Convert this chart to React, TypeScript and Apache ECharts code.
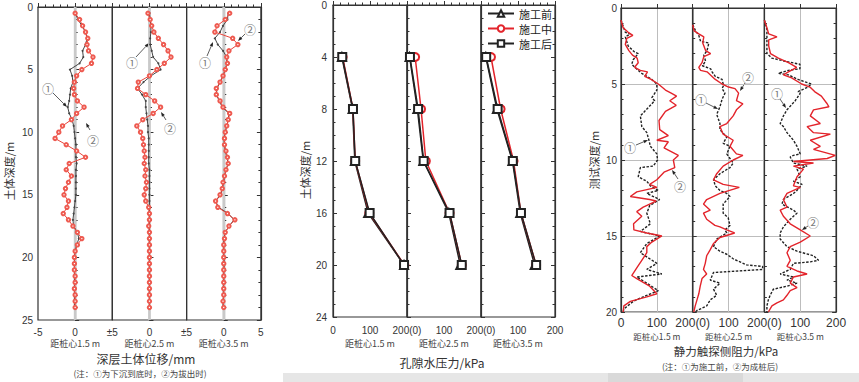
import React, { useEffect, useRef } from "react";
import * as echarts from "echarts";

// ---------- Panel 1: deep soil displacement (mm) vs depth (m) ----------
const DEPTH_1 = [0.5, 1, 1.5, 2, 2.5, 3, 3.5, 4, 4.5, 5, 5.5, 6, 6.5, 7, 7.5, 8, 8.5, 9, 9.5, 10, 10.5, 11, 11.5, 12, 12.5, 13, 13.5, 14, 14.5, 15, 15.5, 16, 16.5, 17, 17.5, 18, 18.5, 19, 19.5, 20, 20.5, 21, 21.5, 22, 22.5, 23, 23.5, 24];
// ① at pile bottom (black), ② when pulled out (red)
const DISP_15_SINK = [0, 0.4, 0.9, 1.4, 1.6, 1.4, 1.0, 1.1, 0.6, -0.7, -0.4, -0.3, -0.6, -0.7, -0.8, -1.0, -0.8, -0.4, -0.2, -0.1, 0, 0.1, 0.1, 0.1, 0.2, 0.1, 0.1, 0.1, 0.1, 0.1, 0, -0.1, -0.2, -0.3, -0.2, 0.3, 0.5, 0.2, 0, -0.1, -0.1, -0.1, -0.1, -0.1, -0.1, -0.1, -0.1, -0.1];
const DISP_15_PULL = [0, 0.6, 1.0, 1.4, 1.7, 1.6, 1.8, 2.4, 2.2, 0.9, 0.2, -0.1, -0.2, -0.1, 0.3, 1.2, 0.2, -0.5, -1.7, -2.2, -2.7, -1.2, 0.2, 1.4, -0.8, -1.2, -0.5, -0.9, -1.3, -1.5, -0.9, -1.1, -1.6, -0.9, -0.3, 0.3, 0.9, 0.3, 0, -0.1, -0.1, -0.1, 0, 0, -0.1, 0, 0, 0];
const DISP_25_SINK = [0, 0.1, 0.2, 0.2, 0.1, 0.1, 0.3, 0.5, 1.2, 1.5, 0.2, -0.8, -1.6, -1.0, -0.5, -0.5, -0.4, -0.3, -0.2, -0.2, -0.1, -0.1, -0.1, -0.1, -0.1, 0, 0, 0, 0, 0, 0, 0, 0, 0, 0, 0, 0, 0, 0, 0, 0, 0, 0, 0, 0, 0, 0, 0];
const DISP_25_PULL = [-0.2, 0.1, 0.3, 0.6, 1.2, 1.9, 2.5, 2.9, 2.0, 1.0, 0, -1.5, -1.6, -0.5, 0.7, 1.5, 0.5, -0.9, -1.7, -1.2, -0.9, -0.8, -0.7, -0.6, -0.7, -0.5, -0.6, -0.4, -0.5, -0.7, -0.5, -0.1, 0, 0, -0.1, 0, 0, 0, 0, 0, 0, 0, 0, 0, 0, 0, 0, 0];
const DISP_35_SINK = [0.6, 0.5, -0.1, -0.5, -1.2, -0.8, -0.1, 0.4, 0.4, 0.2, -0.1, -0.5, -0.9, -1.0, -0.6, -0.2, 0.7, 0.6, 0.4, 0.2, 0, 0.1, 0.2, 0.4, 0.6, 0.3, 0.1, 0, -0.2, -0.4, -1.1, -0.7, 0.6, 1.4, 0.7, 0.2, 0, 0, 0, 0, 0.1, 0, 0, 0, -0.1, 0, -0.1, -0.1];
const DISP_35_PULL = [0.8, 0.2, -0.9, -1.2, 1.2, 1.9, 0.7, 0.4, 0.5, 0.2, -0.1, -0.5, -1.0, -1.0, -0.5, -0.1, 0.8, 0.6, 0.4, 0.2, 0.1, 0.1, 0.3, 0.5, 0.6, 0.3, 0.1, -0.1, -0.2, -0.5, -1.1, -0.8, 0.5, 1.5, 0.7, 0.2, 0.1, 0, 0, 0, 0, 0, 0, 0, 0, 0, -0.1, 0];

// ---------- Panel 2: pore water pressure (kPa) vs depth (m) ----------
const DEPTH_2 = [4, 8, 12, 16, 20];
const PWP_15 = { before: [24, 53, 59, 95, 192], during: [26, 54, 60, 98, 193], after: [25, 54, 60, 99, 192] };
const PWP_25 = { before: [7, 28, 44, 113, 144], during: [22, 38, 51, 115, 148], after: [8, 30, 45, 115, 148] };
const PWP_35 = { before: [13, 43, 85, 106, 145], during: [27, 53, 88, 108, 149], after: [14, 45, 86, 108, 149] };
const LEGEND_NAMES = ["施工前", "施工中", "施工后"];

// ---------- Panel 3: CPT sleeve friction (kPa) vs depth (m), pairs [kPa, depth] ----------
const CPT_15_BEFORE = [[0, 0.8], [12, 1.6], [26, 1.7], [12, 1.9], [20, 2.5], [38, 2.9], [48, 3.0], [34, 3.4], [30, 3.7], [48, 4.1], [58, 4.3], [72, 4.5], [86, 4.7], [100, 5.0], [100, 5.4], [86, 5.9], [94, 6.1], [78, 6.5], [54, 7.1], [58, 7.8], [72, 8.2], [78, 8.7], [82, 9.1], [100, 9.6], [102, 10.0], [90, 10.4], [54, 10.5], [48, 11.1], [72, 11.4], [82, 11.7], [104, 12.0], [72, 12.2], [108, 12.6], [80, 13.0], [72, 13.5], [82, 14.2], [54, 14.7], [108, 15.0], [72, 15.5], [54, 16.1], [100, 16.8], [72, 17.2], [114, 17.5], [44, 17.7], [72, 18.1], [104, 18.6], [62, 19.0], [34, 19.3], [8, 19.8], [6, 20]];
const CPT_15_AFTER = [[0, 0.8], [6, 1.3], [20, 1.6], [33, 1.8], [16, 2.0], [12, 2.4], [22, 2.8], [32, 3.1], [45, 3.3], [48, 3.6], [38, 3.9], [54, 4.1], [74, 4.2], [66, 4.5], [84, 4.7], [104, 5.0], [114, 5.2], [124, 5.4], [140, 5.6], [155, 5.8], [136, 6.1], [154, 6.4], [124, 6.8], [106, 7.4], [108, 8.0], [132, 8.4], [100, 8.7], [132, 8.8], [120, 9.2], [160, 9.7], [146, 10.0], [150, 10.5], [120, 10.8], [100, 11.3], [80, 11.6], [100, 11.8], [44, 12.1], [26, 12.4], [80, 12.6], [98, 12.7], [62, 13.1], [44, 13.4], [58, 13.7], [35, 14.2], [36, 14.6], [72, 14.8], [114, 15.0], [86, 15.4], [72, 15.7], [72, 16.1], [58, 16.6], [44, 17.1], [30, 17.6], [44, 17.8], [80, 18.3], [100, 18.8], [72, 19.0], [26, 19.3], [8, 19.6], [6, 20]];
const CPT_25_BEFORE = [[0, 1.1], [8, 1.5], [17, 1.8], [22, 2.2], [45, 2.3], [40, 2.8], [31, 3.1], [36, 3.5], [27, 3.8], [50, 4.0], [54, 4.2], [63, 4.5], [82, 4.7], [86, 5.1], [82, 5.3], [90, 5.6], [82, 6.0], [76, 6.5], [67, 7.0], [76, 7.6], [76, 8.0], [95, 8.5], [85, 8.9], [104, 9.1], [95, 9.6], [104, 9.9], [113, 10.2], [104, 10.5], [76, 10.9], [58, 11.3], [63, 11.7], [76, 12.0], [95, 12.2], [104, 12.4], [85, 12.9], [85, 13.5], [99, 13.8], [104, 14.3], [90, 14.6], [95, 14.8], [67, 15.2], [58, 15.7], [76, 16.0], [95, 16.2], [113, 16.5], [150, 16.9], [195, 17.0], [195, 17.2], [58, 17.4], [49, 17.9], [76, 18.1], [58, 18.5], [67, 18.9], [49, 19.2], [39, 19.6], [12, 19.9], [7, 20]];
const CPT_25_AFTER = [[0, 1.1], [4, 1.5], [17, 1.7], [31, 1.9], [28, 2.3], [36, 2.8], [50, 3.0], [31, 3.2], [26, 3.6], [17, 3.9], [22, 4.1], [40, 4.2], [54, 4.5], [63, 4.7], [82, 5.0], [100, 5.2], [118, 5.3], [128, 5.6], [122, 6.1], [140, 6.3], [122, 6.7], [113, 7.1], [95, 7.6], [76, 7.8], [85, 8.3], [113, 8.7], [104, 9.1], [122, 9.6], [140, 9.7], [113, 10.0], [85, 10.4], [67, 10.9], [58, 11.3], [85, 11.6], [130, 11.8], [76, 12.2], [39, 12.6], [30, 12.9], [49, 13.3], [30, 13.5], [39, 13.9], [62, 14.3], [76, 14.4], [95, 14.6], [117, 14.8], [76, 15.1], [58, 15.5], [49, 15.9], [39, 16.3], [35, 16.8], [30, 17.2], [39, 17.5], [26, 17.8], [21, 18.3], [17, 18.8], [12, 19.2], [7, 19.6], [3, 20]];
const CPT_35_BEFORE = [[0, 0.8], [7, 1.4], [7, 2.3], [7, 3.0], [21, 3.3], [58, 3.5], [99, 3.7], [99, 4.0], [67, 4.1], [39, 4.3], [67, 4.4], [94, 4.7], [131, 5.0], [122, 5.2], [94, 5.5], [100, 5.6], [86, 6.1], [63, 6.7], [53, 7.1], [44, 7.6], [53, 7.8], [63, 8.2], [81, 8.7], [91, 9.1], [100, 9.6], [81, 9.7], [72, 9.8], [81, 10.2], [119, 10.4], [91, 10.6], [100, 11.1], [81, 11.4], [105, 11.6], [91, 12.0], [81, 12.2], [53, 12.6], [49, 12.9], [81, 13.3], [91, 13.5], [81, 13.7], [72, 13.9], [53, 14.4], [44, 14.8], [44, 15.2], [63, 15.7], [91, 16.0], [137, 16.3], [151, 16.6], [128, 16.7], [81, 16.8], [72, 17.2], [44, 17.5], [81, 17.7], [63, 17.9], [91, 18.1], [63, 18.3], [25, 18.5], [16, 18.9], [11, 19.2], [7, 19.6], [7, 20]];
const CPT_35_AFTER = [[0, 0.8], [7, 1.3], [12, 1.7], [35, 1.9], [12, 2.1], [12, 2.5], [17, 3.0], [39, 3.3], [67, 3.6], [90, 3.9], [67, 4.2], [53, 4.4], [76, 4.6], [104, 5.0], [127, 5.2], [140, 5.5], [159, 5.8], [175, 6.3], [180, 6.5], [137, 6.7], [128, 7.1], [156, 7.6], [119, 7.8], [137, 8.2], [184, 8.3], [128, 8.7], [156, 9.1], [137, 9.3], [198, 9.7], [175, 9.9], [81, 10.1], [137, 10.2], [81, 10.4], [109, 10.6], [91, 11.1], [81, 11.7], [100, 11.8], [63, 12.2], [53, 12.6], [63, 13.1], [44, 13.3], [53, 13.7], [72, 14.2], [100, 14.6], [128, 15.0], [100, 15.4], [72, 15.7], [63, 16.1], [72, 16.6], [63, 17.0], [91, 17.3], [119, 17.5], [81, 17.7], [72, 18.1], [91, 18.4], [72, 18.6], [63, 18.9], [53, 19.2], [35, 19.4], [21, 19.6], [11, 20]];

const SUB_LABELS = ["距桩心1.5 m", "距桩心2.5 m", "距桩心3.5 m"];

const NUM_FONT = "'Liberation Sans', Arial, sans-serif";
const CJK_FONT = "'Noto Sans CJK SC', 'Liberation Sans', sans-serif";
const AX = "#333";
const RED = "#e3242b";

const LAYOUTS = [
  { left: 38, w: 74.3, top: 7, h: 313 },
  { left: 333, w: 74, top: 5, h: 312 },
  { left: 621, w: 71.7, top: 8, h: 304 },
];

function pairs(vals: number[], depths: number[]) {
  return vals.map((v, k) => [v, depths[k]]);
}

function arrow(x1: number, y1: number, x2: number, y2: number) {
  const dx = x2 - x1, dy = y2 - y1;
  const len = Math.sqrt(dx * dx + dy * dy) || 1;
  const ux = dx / len, uy = dy / len;
  const bx = x2 - ux * 4.5, by = y2 - uy * 4.5;
  return [
    { type: "line", shape: { x1, y1, x2: bx, y2: by }, style: { stroke: "#333", lineWidth: 0.8 }, silent: true },
    { type: "polygon", shape: { points: [[x2, y2], [bx - uy * 1.7, by + ux * 1.7], [bx + uy * 1.7, by - ux * 1.7]] }, style: { fill: "#222" }, silent: true },
  ];
}

function note(label: string, tx: number, ty: number, x1: number, y1: number, x2: number, y2: number) {
  return [
    { type: "text", x: tx, y: ty, silent: true, style: { text: label, font: `12px ${CJK_FONT}`, fill: "#7a7a7a", align: "center", verticalAlign: "middle" } },
    ...arrow(x1, y1, x2, y2),
  ];
}

function txt(text: string, x: number, y: number, size: number, fill = "#333", rotation = 0) {
  return { type: "text", x, y, rotation, silent: true, style: { text, font: `${size}px ${CJK_FONT}`, fill, align: "center", verticalAlign: "middle" } };
}

function buildOption() {
  const grid: any[] = [];
  const xAxis: any[] = [];
  const yAxis: any[] = [];
  const rightAxes: any[] = [];
  const panelY = [
    { max: 25, interval: 5, minor: 5, label: 10, margin: 5 },
    { max: 24, interval: 4, minor: 4, label: 10, margin: 6 },
    { max: 20, interval: 5, minor: 5, label: 10, margin: 4 },
  ];
  LAYOUTS.forEach((L, p) => {
    for (let i = 0; i < 3; i++) {
      const g = p * 3 + i;
      grid.push({ left: L.left + i * L.w, top: L.top, width: L.w, height: L.h, show: true, borderColor: AX, borderWidth: 1.2, backgroundColor: "transparent" });
      let xa: any;
      if (p === 0) {
        xa = {
          min: -5, max: 5, interval: 5,
          axisLabel: { fontSize: 10, margin: 7, fontFamily: NUM_FONT, color: "#333", formatter: (v: number) => (v === -5 ? (i === 0 ? "-5" : "±5") : v === 5 ? (i === 2 ? "5" : "") : String(v)) },
          minorTick: { show: true, splitNumber: 5, length: 2.5, lineStyle: { color: AX } },
          splitLine: { show: false },
        };
      } else {
        xa = {
          min: 0, max: 200, interval: 100,
          axisLabel: { fontSize: p === 1 ? 10 : 12, margin: p === 1 ? 8 : 5, fontFamily: NUM_FONT, color: "#333", formatter: (v: number) => (v === 0 ? (i === 0 ? "0" : "200(0)") : v === 200 ? (i === 2 ? "200" : "") : String(v)) },
          minorTick: { show: p === 1, splitNumber: 5, length: 2.5, lineStyle: { color: AX } },
          splitLine: { show: p === 2, lineStyle: { color: "#bdbdbd", width: 1 } },
        };
      }
      xAxis.push({
        type: "value", gridIndex: g, position: "bottom",
        axisLine: { show: true, lineStyle: { color: AX, width: 1.2 } },
        axisTick: { show: true, inside: true, length: 4, lineStyle: { color: AX } },
        ...xa,
      });
      const Y = panelY[p];
      const yBase = {
        type: "value", gridIndex: g, inverse: true, min: 0, max: Y.max, interval: Y.interval,
        axisLine: { show: true, lineStyle: { color: AX, width: 1.2 } },
        axisTick: { show: true, inside: true, length: 4, lineStyle: { color: AX } },
        minorTick: { show: true, splitNumber: Y.minor, length: 2.5, lineStyle: { color: AX } },
      };
      yAxis.push({
        ...yBase, position: "left",
        axisLabel: { show: i === 0, fontSize: Y.label, margin: Y.margin, fontFamily: NUM_FONT, color: "#333" },
        splitLine: { show: p === 2, lineStyle: { color: "#bdbdbd", width: 1 } },
      });
      if (i === 2) {
        rightAxes.push({ ...yBase, position: "right", axisLabel: { show: false }, splitLine: { show: false } });
      }
    }
  });

  const series: any[] = [];
  // Panel 1
  const p1 = [
    [DISP_15_SINK, DISP_15_PULL],
    [DISP_25_SINK, DISP_25_PULL],
    [DISP_35_SINK, DISP_35_PULL],
  ];
  p1.forEach(([sink, pull], i) => {
    series.push({
      type: "line", name: `下沉到底时 ${SUB_LABELS[i]}`, xAxisIndex: i, yAxisIndex: i, z: 2,
      data: pairs(sink, DEPTH_1), symbol: "circle", symbolSize: 2,
      lineStyle: { color: "#444", width: 1 }, itemStyle: { color: "#444" },
      markArea: { silent: true, itemStyle: { color: "#c9c9c9" }, label: { show: false }, data: [[{ xAxis: -0.18 }, { xAxis: 0.18 }]] },
    });
    series.push({
      type: "line", name: `拔出时 ${SUB_LABELS[i]}`, xAxisIndex: i, yAxisIndex: i, z: 3,
      data: pairs(pull, DEPTH_1), symbol: "emptyCircle", symbolSize: 3.4,
      lineStyle: { color: "#e8443a", width: 1 }, itemStyle: { color: "#ee5a50", borderWidth: 0.5 },
    });
  });
  // Panel 2
  [PWP_15, PWP_25, PWP_35].forEach((s, i) => {
    const g = 3 + i;
    const cfg = [
      { key: "before", name: LEGEND_NAMES[0], color: "#222", symbol: "emptyTriangle" },
      { key: "during", name: LEGEND_NAMES[1], color: RED, symbol: "emptyCircle" },
      { key: "after", name: LEGEND_NAMES[2], color: "#222", symbol: "emptyRect" },
    ];
    cfg.forEach((c) => {
      series.push({
        type: "line", name: c.name, xAxisIndex: g, yAxisIndex: g,
        data: pairs((s as any)[c.key], DEPTH_2), symbol: c.symbol, symbolSize: 8,
        lineStyle: { color: c.color, width: 1.5 }, itemStyle: { color: c.color, borderWidth: 1.2 },
      });
    });
  });
  // Panel 3
  [[CPT_15_BEFORE, CPT_15_AFTER], [CPT_25_BEFORE, CPT_25_AFTER], [CPT_35_BEFORE, CPT_35_AFTER]].forEach(([b, a], i) => {
    const g = 6 + i;
    series.push({
      type: "line", name: `施工前 CPT ${SUB_LABELS[i]}`, xAxisIndex: g, yAxisIndex: g, z: 2,
      data: b, symbol: "none", lineStyle: { color: "#222", width: 1.4, type: [2.5, 1.5] },
    });
    series.push({
      type: "line", name: `成桩后 CPT ${SUB_LABELS[i]}`, xAxisIndex: g, yAxisIndex: g, z: 3,
      data: a, symbol: "none", lineStyle: { color: RED, width: 1.4 },
    });
  });

  const graphic: any[] = [
    { type: "rect", shape: { x: 283, y: 373, width: 576, height: 9 }, style: { fill: "#e6e6e6" }, silent: true },
    { type: "rect", shape: { x: 608, y: 373, width: 135, height: 9 }, style: { fill: "#d9d9d9" }, silent: true },
    txt("土体深度/m", 9, 171, 11, "#333", Math.PI / 2),
    txt("土体深度/m", 305, 170, 11, "#333", Math.PI / 2),
    txt("测试深度/m", 594, 160, 11, "#333", Math.PI / 2),
    txt("深层土体位移/mm", 146, 358, 12, "#333"),
    txt("孔隙水压力/kPa", 442, 362, 12, "#333"),
    txt("静力触探侧阻力/kPa", 726, 351, 11.5, "#333"),
    txt("(注：①为下沉到底时，②为拔出时)", 140, 373, 8.5, "#444"),
    txt("(注：①为施工前，②为成桩后)", 720, 366, 8.5, "#444"),
  ];
  LAYOUTS.forEach((L, p) => {
    const y = p === 2 ? 336 : 343;
    for (let i = 0; i < 3; i++) {
      graphic.push(txt(SUB_LABELS[i], L.left + (i + 0.5) * L.w, y, p === 2 ? 8.5 : 9, "#444"));
    }
  });
  graphic.push(
    ...note("①", 48, 88, 53, 93, 67, 107),
    ...note("②", 93, 140, 90, 130, 86, 123),
    ...note("①", 132, 62, 136, 57, 149, 43),
    ...note("②", 170, 128, 166, 120, 161, 112),
    ...note("①", 205, 62, 207, 56, 213, 42),
    ...note("②", 250, 29, 245, 34, 238, 41),
    ...note("①", 630, 147, 636, 145, 648, 140),
    ...note("②", 680, 186, 678, 179, 672, 170),
    ...note("②", 748, 77, 745, 83, 740, 91),
    ...note("①", 701, 99, 706, 103, 718, 109),
    ...note("①", 777, 93, 780, 99, 786, 108),
    ...note("②", 813, 222, 808, 226, 802, 230),
  );

  return {
    animation: false,
    backgroundColor: "#ffffff",
    textStyle: { fontFamily: CJK_FONT },
    grid,
    xAxis,
    yAxis: [...yAxis, ...rightAxes.map((a, k) => ({ ...a, gridIndex: 2 + k * 3 }))],
    legend: {
      data: LEGEND_NAMES, orient: "vertical", left: 487, top: 8, padding: 0,
      itemWidth: 26, itemHeight: 8, itemGap: 4,
      textStyle: { fontSize: 11, color: "#222", fontFamily: CJK_FONT, lineHeight: 11 },
    },
    series,
    graphic,
  };
}

export default function App() {
  const ref = useRef<HTMLDivElement>(null);
  useEffect(() => {
    const chart = echarts.init(ref.current!, null, { renderer: "svg" });
    chart.setOption(buildOption() as any);
    return () => chart.dispose();
  }, []);
  return <div ref={ref} style={{ position: "fixed", left: 0, top: 0, width: 859, height: 382 }} />;
}
